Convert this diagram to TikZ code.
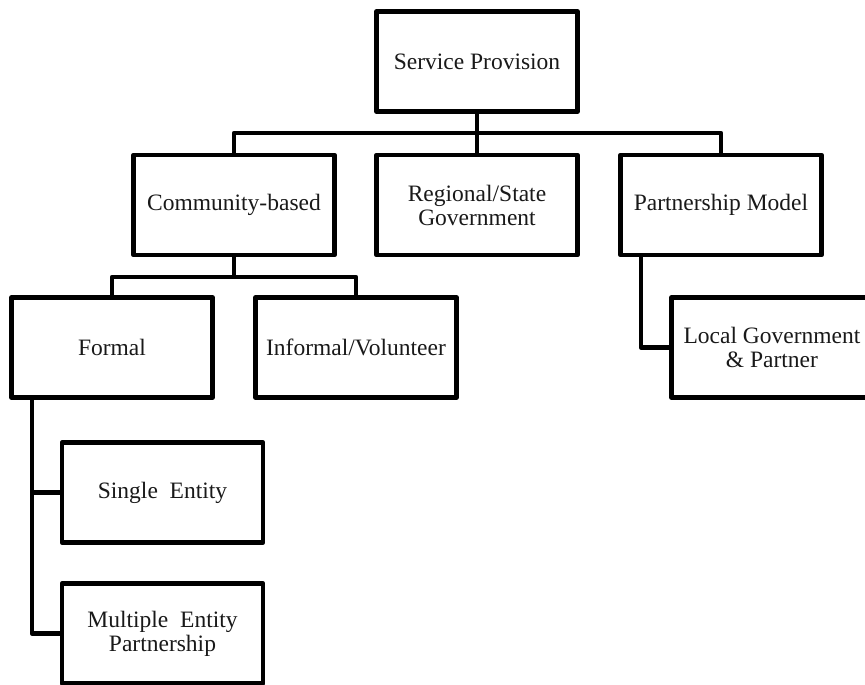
\documentclass[tikz,border=0pt]{standalone}
\usepackage{fontspec}
\setmainfont{Liberation Serif}
\begin{document}
\begin{tikzpicture}[x=1pt,y=-1pt,
  box/.style={draw=black, line width=4.5pt, line join=round, rectangle,
    minimum width=201pt, minimum height=100pt, inner sep=2pt, outer sep=0pt,
    align=center, font=\fontsize{23.5}{24}\selectfont, text=black!90},
  link/.style={draw=black, line width=4.5pt, line join=round}]
\useasboundingbox (0,0) rectangle (865,685);
\clip (0,0) rectangle (865,685);
\node[box] (sp) at (477,61.5) {Service Provision};
\node[box] (cb) at (234,205) {Community-based};
\node[box] (rg) at (477,205) {Regional/State\\Government};
\node[box] (pm) at (721,205) {Partnership Model};
\node[box] (fo) at (112,347.5) {Formal};
\node[box] (inf) at (356,347.5) {Informal/Volunteer};
\node[box] (lg) at (772,347.5) {Local Government\\\& Partner};
\node[box] (se) at (162.5,492.5) {Single~ Entity};
\node[box] (me) at (162.5,633.5) {Multiple~ Entity\\Partnership};
\draw[link] (sp.south) -- (rg.north);
\draw[link] (cb.north) -- ++(0,-22) -| (pm.north);
\draw[link] (cb.south) -- ++(0,22) -| (fo.north);
\draw[link] (cb.south) ++(0,22) -| (inf.north);
\draw[link] ([xshift=-80pt]pm.south) |- (lg.west);
\draw[link] ([xshift=-80pt]fo.south) |- (se.west);
\draw[link] ([xshift=-80pt]fo.south) |- (me.west);
\end{tikzpicture}
\end{document}
